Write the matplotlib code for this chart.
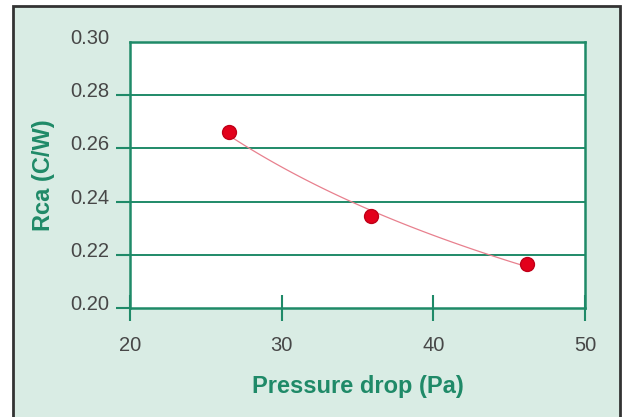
import numpy as np
import matplotlib
matplotlib.use('Agg')
import matplotlib.pyplot as plt
from matplotlib.patches import Rectangle
from matplotlib.transforms import ScaledTranslation

plt.rcParams['font.family'] = ['Liberation Sans', 'DejaVu Sans']

# measured points
pressure = [26.5, 35.9, 46.2]  # Pa
rca = [0.266, 0.2346, 0.2165]  # C/W

green = '#1f8a68'
bg = '#d9ece4'

fig = plt.figure(figsize=(6.23, 4.17), dpi=100, facecolor='white')
# panel background with dark frame
frame = Rectangle((12.5 / 623, -0.02), 607.5 / 623, (417 - 6) / 417 + 0.02,
                  transform=fig.transFigure, facecolor=bg,
                  edgecolor='#333333', linewidth=2, zorder=-10)
fig.add_artist(frame)

ax = fig.add_axes([130 / 623, 1 - 308 / 417, 455 / 623, 266 / 417])
ax.set_zorder(5)
ax.set_facecolor('white')

# power-law trend line fitted to the measurements
b, lna = np.polyfit(np.log(pressure), np.log(rca), 1)
xs = np.linspace(pressure[0], pressure[-1], 100)
ax.plot(xs, np.exp(lna) * xs ** b, color='#e8808e', lw=0.9, zorder=2)
ax.plot(pressure, rca, 'o', color='#e3001b', markeredgecolor='#c00018',
        markersize=10, zorder=3)

ax.set_xlim(20, 50)
ax.set_ylim(0.20, 0.30)
ax.set_xticks([20, 30, 40, 50])
ax.set_yticks([0.20, 0.22, 0.24, 0.26, 0.28, 0.30])
ax.set_yticklabels(['0.20', '0.22', '0.24', '0.26', '0.28', '0.30'])

for y in [0.22, 0.24, 0.26, 0.28]:
    ax.axhline(y, color=green, lw=1.4, zorder=1)

for s in ax.spines.values():
    s.set_color(green)
    s.set_linewidth(1.8)

ax.tick_params(axis='x', direction='inout', length=19, width=1.5, color=green,
               labelsize=14.5, labelcolor='#474747', pad=11)
ax.tick_params(axis='y', direction='out', length=10, width=1.5, color=green,
               labelsize=14.5, labelcolor='#474747', pad=5)
ax.yaxis.get_major_ticks()[-1].tick1line.set_visible(False)

# y tick labels sit a little above their ticks
shift = ScaledTranslation(0, 4 / 72, fig.dpi_scale_trans)
for lab in ax.get_yticklabels():
    lab.set_transform(lab.get_transform() + shift)

ax.set_xlabel('Pressure drop (Pa)', color=green, fontsize=17, fontweight='bold', labelpad=14)
ax.set_ylabel('Rca (C/W)', color=green, fontsize=17, fontweight='bold', labelpad=11)

fig.savefig('out.png', dpi=100, facecolor=fig.get_facecolor())
